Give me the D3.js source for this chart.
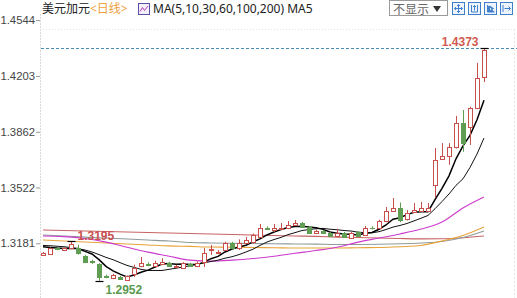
<!DOCTYPE html>
<html>
<head>
<meta charset="utf-8">
<script src="https://cdn.jsdelivr.net/npm/d3@7"></script>
<style>
  body { margin: 0; background: #fff; }
  svg { display: block; font-family: "Noto Sans", "Noto Sans CJK SC", sans-serif; }
  .y-axis text { font-family: "Liberation Sans", Arial, sans-serif; font-size: 11.3px; fill: #444; }
  .y-axis line { stroke: #999; }
</style>
</head>
<body>
<svg id="chart" width="517" height="298"></svg>
<script>
// Header texts
const title = "美元加元";
const period = "<日线>";
const maLabel = "MA(5,10,30,60,100,200) MA5";
const hideLabel = "不显示";

// Y ticks
const yTicks = [1.3181, 1.3522, 1.3862, 1.4203, 1.4544];
const yTickLabels = ["1.3181", "1.3522", "1.3862", "1.4203", "1.4544"];

// Daily candles
const opens = [1.3110, 1.3116, 1.3150, 1.3140, 1.3150, 1.3150, 1.3103, 1.3070, 1.3055, 1.2980,
  1.2969, 1.2976, 1.2957, 1.2993, 1.3040, 1.3052, 1.3042, 1.3055, 1.3060, 1.3036,
  1.3030, 1.3056, 1.3045, 1.3067, 1.3140, 1.3122, 1.3140, 1.3183, 1.3152, 1.3183,
  1.3189, 1.3220, 1.3277, 1.3265, 1.3270, 1.3274, 1.3293, 1.3305, 1.3280, 1.3244,
  1.3256, 1.3244, 1.3226, 1.3244, 1.3213, 1.3250, 1.3232, 1.3277, 1.3274, 1.3317,
  1.3378, 1.3397, 1.3330, 1.3372, 1.3378, 1.3380, 1.3537, 1.3696, 1.3714, 1.3769,
  1.3916, 1.3891, 1.4008, 1.4197];
const highs = [1.3128, 1.3156, 1.3158, 1.3158, 1.3195, 1.3172, 1.3110, 1.3080, 1.3060, 1.2990,
  1.2995, 1.2982, 1.2985, 1.3050, 1.3097, 1.3065, 1.3075, 1.3090, 1.3068, 1.3050,
  1.3066, 1.3062, 1.3070, 1.3152, 1.3171, 1.3140, 1.3190, 1.3190, 1.3205, 1.3220,
  1.3240, 1.3299, 1.3285, 1.3299, 1.3305, 1.3317, 1.3323, 1.3311, 1.3285, 1.3265,
  1.3262, 1.3250, 1.3270, 1.3250, 1.3250, 1.3256, 1.3287, 1.3285, 1.3325, 1.3403,
  1.3458, 1.3430, 1.3385, 1.3427, 1.3433, 1.3427, 1.3763, 1.3793, 1.3793, 1.3959,
  1.3995, 1.4015, 1.4283, 1.4373];
const lows = [1.3105, 1.3112, 1.3140, 1.3136, 1.3145, 1.3112, 1.3060, 1.3055, 1.2952, 1.2968,
  1.2962, 1.2958, 1.2955, 1.2975, 1.3035, 1.3040, 1.3038, 1.3050, 1.3040, 1.3030,
  1.3025, 1.3040, 1.3040, 1.3036, 1.3110, 1.3115, 1.3135, 1.3146, 1.3140, 1.3178,
  1.3180, 1.3215, 1.3265, 1.3250, 1.3265, 1.3268, 1.3288, 1.3275, 1.3238, 1.3238,
  1.3238, 1.3220, 1.3220, 1.3215, 1.3208, 1.3220, 1.3226, 1.3265, 1.3268, 1.3310,
  1.3372, 1.3310, 1.3320, 1.3366, 1.3372, 1.3375, 1.3458, 1.3690, 1.3660, 1.3760,
  1.3740, 1.3781, 1.4000, 1.4166];
const closes = [1.3122, 1.3152, 1.3145, 1.3150, 1.3178, 1.3120, 1.3067, 1.3064, 1.2975, 1.2976,
  1.2985, 1.2965, 1.2980, 1.3030, 1.3062, 1.3048, 1.3060, 1.3068, 1.3045, 1.3042,
  1.3060, 1.3045, 1.3062, 1.3122, 1.3146, 1.3128, 1.3183, 1.3152, 1.3183, 1.3201,
  1.3232, 1.3274, 1.3270, 1.3272, 1.3276, 1.3293, 1.3305, 1.3281, 1.3244, 1.3256,
  1.3244, 1.3226, 1.3244, 1.3220, 1.3244, 1.3226, 1.3274, 1.3272, 1.3317, 1.3378,
  1.3397, 1.3323, 1.3366, 1.3385, 1.3397, 1.3397, 1.3690, 1.3714, 1.3769, 1.3916,
  1.3793, 1.4008, 1.4191, 1.4362];

// Fast MAs, one value per candle
const ma5 = [1.3160, 1.3156, 1.3152, 1.3150, 1.3149, 1.3149, 1.3132, 1.3116, 1.3081, 1.3040,
  1.3013, 1.2993, 1.2976, 1.2987, 1.3004, 1.3017, 1.3036, 1.3054, 1.3057, 1.3053,
  1.3055, 1.3052, 1.3051, 1.3066, 1.3087, 1.3101, 1.3128, 1.3146, 1.3158, 1.3169,
  1.3190, 1.3208, 1.3232, 1.3250, 1.3265, 1.3277, 1.3283, 1.3285, 1.3280, 1.3276,
  1.3266, 1.3250, 1.3243, 1.3238, 1.3236, 1.3232, 1.3242, 1.3247, 1.3267, 1.3293,
  1.3328, 1.3337, 1.3356, 1.3370, 1.3374, 1.3374, 1.3447, 1.3517, 1.3593, 1.3697,
  1.3776, 1.3840, 1.3935, 1.4054];
const ma10 = [1.3168, 1.3166, 1.3163, 1.3160, 1.3155, 1.3148, 1.3140, 1.3128, 1.3112, 1.3095,
  1.3081, 1.3063, 1.3046, 1.3034, 1.3022, 1.3015, 1.3015, 1.3015, 1.3022, 1.3029,
  1.3036, 1.3044, 1.3052, 1.3061, 1.3070, 1.3078, 1.3090, 1.3099, 1.3112, 1.3128,
  1.3145, 1.3168, 1.3189, 1.3204, 1.3217, 1.3234, 1.3246, 1.3259, 1.3265, 1.3270,
  1.3272, 1.3267, 1.3264, 1.3259, 1.3256, 1.3249, 1.3246, 1.3245, 1.3252, 1.3265,
  1.3280, 1.3290, 1.3302, 1.3318, 1.3334, 1.3351, 1.3392, 1.3436, 1.3482, 1.3535,
  1.3575, 1.3644, 1.3726, 1.3824];

// Slow MAs, sampled at these candle indices
const maIdx = [0, 3, 6, 9, 12, 15, 18, 21, 24, 27, 30, 33, 36, 39, 42, 45, 48, 51, 54, 57, 60, 63];
const ma30 = [1.3226, 1.3222, 1.3210, 1.3188, 1.3157, 1.3127, 1.3102, 1.3078, 1.3072, 1.3078, 1.3088,
  1.3102, 1.3120, 1.3137, 1.3157, 1.3188, 1.3213, 1.3238, 1.3268, 1.3311, 1.3397, 1.3464];
const ma60 = [1.3201, 1.3195, 1.3189, 1.3183, 1.3177, 1.3171, 1.3165, 1.3162, 1.3158, 1.3157, 1.3155,
  1.3154, 1.3152, 1.3152, 1.3152, 1.3154, 1.3155, 1.3160, 1.3168, 1.3195, 1.3229, 1.3281];
const ma100 = [1.3232, 1.3226, 1.3219, 1.3213, 1.3207, 1.3201, 1.3195, 1.3186, 1.3183, 1.3181, 1.3180,
  1.3178, 1.3177, 1.3176, 1.3174, 1.3174, 1.3175, 1.3178, 1.3183, 1.3192, 1.3216, 1.3256];
const ma200 = [1.3262, 1.3259, 1.3256, 1.3253, 1.3250, 1.3247, 1.3244, 1.3241, 1.3238, 1.3235, 1.3232,
  1.3229, 1.3226, 1.3223, 1.3219, 1.3216, 1.3213, 1.3210, 1.3208, 1.3209, 1.3215, 1.3226];

// Marked extremes: candle index, price, side
const markIdx = [4, 8, 63];
const markVal = [1.3195, 1.2952, 1.4373];
const markSide = ["high", "low", "high"];

const UP = "#c8504a", DOWN = "#5f9e52";

const svg = d3.select("#chart");
const x = d3.scaleLinear().domain([0, opens.length - 1]).range([43, 484]);
const y = d3.scaleLinear().domain([yTicks[0], yTicks[yTicks.length - 1]]).range([243.3, 20.1]);
const px = i => Math.round(x(i)) + 0.5;

// frame: dotted top, left axis, right edge
svg.append("line").attr("x1", 40).attr("x2", 517).attr("y1", 29.5).attr("y2", 29.5)
  .attr("stroke", "#e2e2e2").attr("stroke-dasharray", "1,2");
svg.append("line").attr("x1", 514.5).attr("x2", 514.5).attr("y1", 29).attr("y2", 298)
  .attr("stroke", "#e6e6e6").attr("stroke-dasharray", "2,2");
svg.append("line").attr("x1", 40.5).attr("x2", 40.5).attr("y1", 14).attr("y2", 298)
  .attr("stroke", "#dadada").attr("stroke-dasharray", "2,1");

const yAxis = svg.append("g").attr("class", "y-axis").attr("transform", "translate(40,0)")
  .call(d3.axisLeft(y).tickValues(yTicks).tickFormat((d, i) => yTickLabels[i]).tickSize(4).tickPadding(1));
yAxis.select(".domain").remove();

// dashed line at latest high
const topMark = markVal[2];
svg.append("line").attr("x1", 41).attr("x2", 517)
  .attr("y1", Math.round(y(topMark)) + 0.5).attr("y2", Math.round(y(topMark)) + 0.5)
  .attr("stroke", "#4c8db5").attr("stroke-dasharray", "3,2");

// moving averages
const lineFast = arr => d3.line().x((d, i) => x(i)).y(d => y(d))(arr);
const lineSlow = arr => d3.line().curve(d3.curveMonotoneX)
  .x((d, i) => x(maIdx[i])).y(d => y(d))(arr);
const slow = [
  { data: ma200, c: "#c86464" },
  { data: ma100, c: "#8f9b9b" },
  { data: ma60, c: "#e8a33a" },
  { data: ma30, c: "#cc3acc" },
];
slow.forEach(m => svg.append("path").attr("d", lineSlow(m.data))
  .attr("fill", "none").attr("stroke", m.c).attr("stroke-width", 1.1));
svg.append("path").attr("d", lineFast(ma10)).attr("fill", "none")
  .attr("stroke", "#111").attr("stroke-width", 1);
svg.append("path").attr("d", lineFast(ma5)).attr("fill", "none")
  .attr("stroke", "#000").attr("stroke-width", 1.5);

// candles
const candles = svg.append("g");
d3.range(opens.length).forEach(i => {
  const o = opens[i], c = closes[i], up = c >= o;
  const col = up ? UP : DOWN;
  const cx = px(i);
  const yt = Math.round(y(Math.max(o, c))), yb = Math.round(y(Math.min(o, c)));
  const g = candles.append("g");
  g.append("line").attr("x1", cx).attr("x2", cx)
    .attr("y1", y(highs[i])).attr("y2", y(lows[i])).attr("stroke", col);
  if (yb - yt < 1) {
    g.append("line").attr("x1", cx - 2.5).attr("x2", cx + 2.5)
      .attr("y1", yt + 0.5).attr("y2", yt + 0.5).attr("stroke", col);
  } else {
    g.append("rect").attr("x", cx - 2).attr("y", yt + 0.5)
      .attr("width", 4).attr("height", yb - yt)
      .attr("fill", up ? "#fff" : col).attr("stroke", col);
  }
});

// extreme markers and labels
markIdx.forEach((mi, k) => {
  const v = markVal[k], yy = Math.round(y(v)) + 0.5, cx = px(mi);
  svg.append("line").attr("x1", cx - 4).attr("x2", cx + 4).attr("y1", yy).attr("y2", yy)
    .attr("stroke", "#000").attr("stroke-width", 1.2);
  const t = svg.append("text").text(v.toFixed(4))
    .attr("font-family", "Liberation Sans, Arial, sans-serif").attr("font-size", 12)
    .attr("font-weight", "bold");
  if (markSide[k] === "low") {
    t.attr("x", cx + 6).attr("y", yy + 12).attr("fill", "#5a9a50");
  } else if (mi === opens.length - 1) {
    t.attr("x", cx - 6).attr("y", yy - 3).attr("text-anchor", "end").attr("fill", "#d05a50");
  } else {
    t.attr("x", cx + 6).attr("y", yy - 2).attr("fill", "#c85050");
  }
});

// header
svg.append("text").attr("x", 42).attr("y", 13).attr("font-size", 12).attr("fill", "#222").text(title);
svg.append("text").attr("x", 90).attr("y", 13).attr("font-size", 12).attr("fill", "#f0a040").text(period);
const icon = svg.append("g").attr("transform", "translate(138.5,3.5)");
icon.append("rect").attr("width", 11).attr("height", 11).attr("fill", "#f4f0fb").attr("stroke", "#5b4fa8");
icon.append("polyline").attr("points", "1.5,8 4,4 6,7 9.5,2.5").attr("fill", "none")
  .attr("stroke", "#c03bc0").attr("stroke-width", 1);
svg.append("text").attr("x", 153).attr("y", 13).attr("font-size", 12).attr("fill", "#222").text(maLabel);

const btn = svg.append("g");
btn.append("rect").attr("x", 389.5).attr("y", 0.5).attr("width", 58).attr("height", 15)
  .attr("fill", "#fff").attr("stroke", "#9a9a9a");
btn.append("text").attr("x", 393).attr("y", 13.5).attr("font-size", 12)
  .attr("font-family", "Noto Sans CJK SC, sans-serif").attr("fill", "#666").text(hideLabel);
btn.append("path").attr("d", "M433,6 L441,6 L437,12 Z").attr("fill", "#333");

const iconX = [452, 468, 484, 500];
iconX.forEach((ix, k) => {
  const g = svg.append("g").attr("transform", `translate(${ix + 0.5},2.5)`);
  g.append("rect").attr("width", 12).attr("height", 12).attr("fill", "#eef4fc").attr("stroke", "#3f7fcc");
  const p = [
    "M6,2 V10 M2,6 H10 M4.5,3.5 L6,2 L7.5,3.5 M4.5,8.5 L6,10 L7.5,8.5 M3.5,4.5 L2,6 L3.5,7.5 M8.5,4.5 L10,6 L8.5,7.5",
    "M3,2.5 V9.5 M9,2.5 V9.5 M3,9.5 H9 M6,3 V8 M4.5,4.5 L6,3 L7.5,4.5",
    "M3,2.5 V9.5 H10 M5,3.5 L9,6 L5,8.5 Z",
    "M2.5,2.5 V9.5 M4,6 H10 M8,4 L10,6 L8,8",
  ][k];
  g.append("path").attr("d", p).attr("fill", k === 2 ? "#3f7fcc" : "none")
    .attr("stroke", "#3f7fcc").attr("stroke-width", 1);
});
</script>
</body>
</html>
